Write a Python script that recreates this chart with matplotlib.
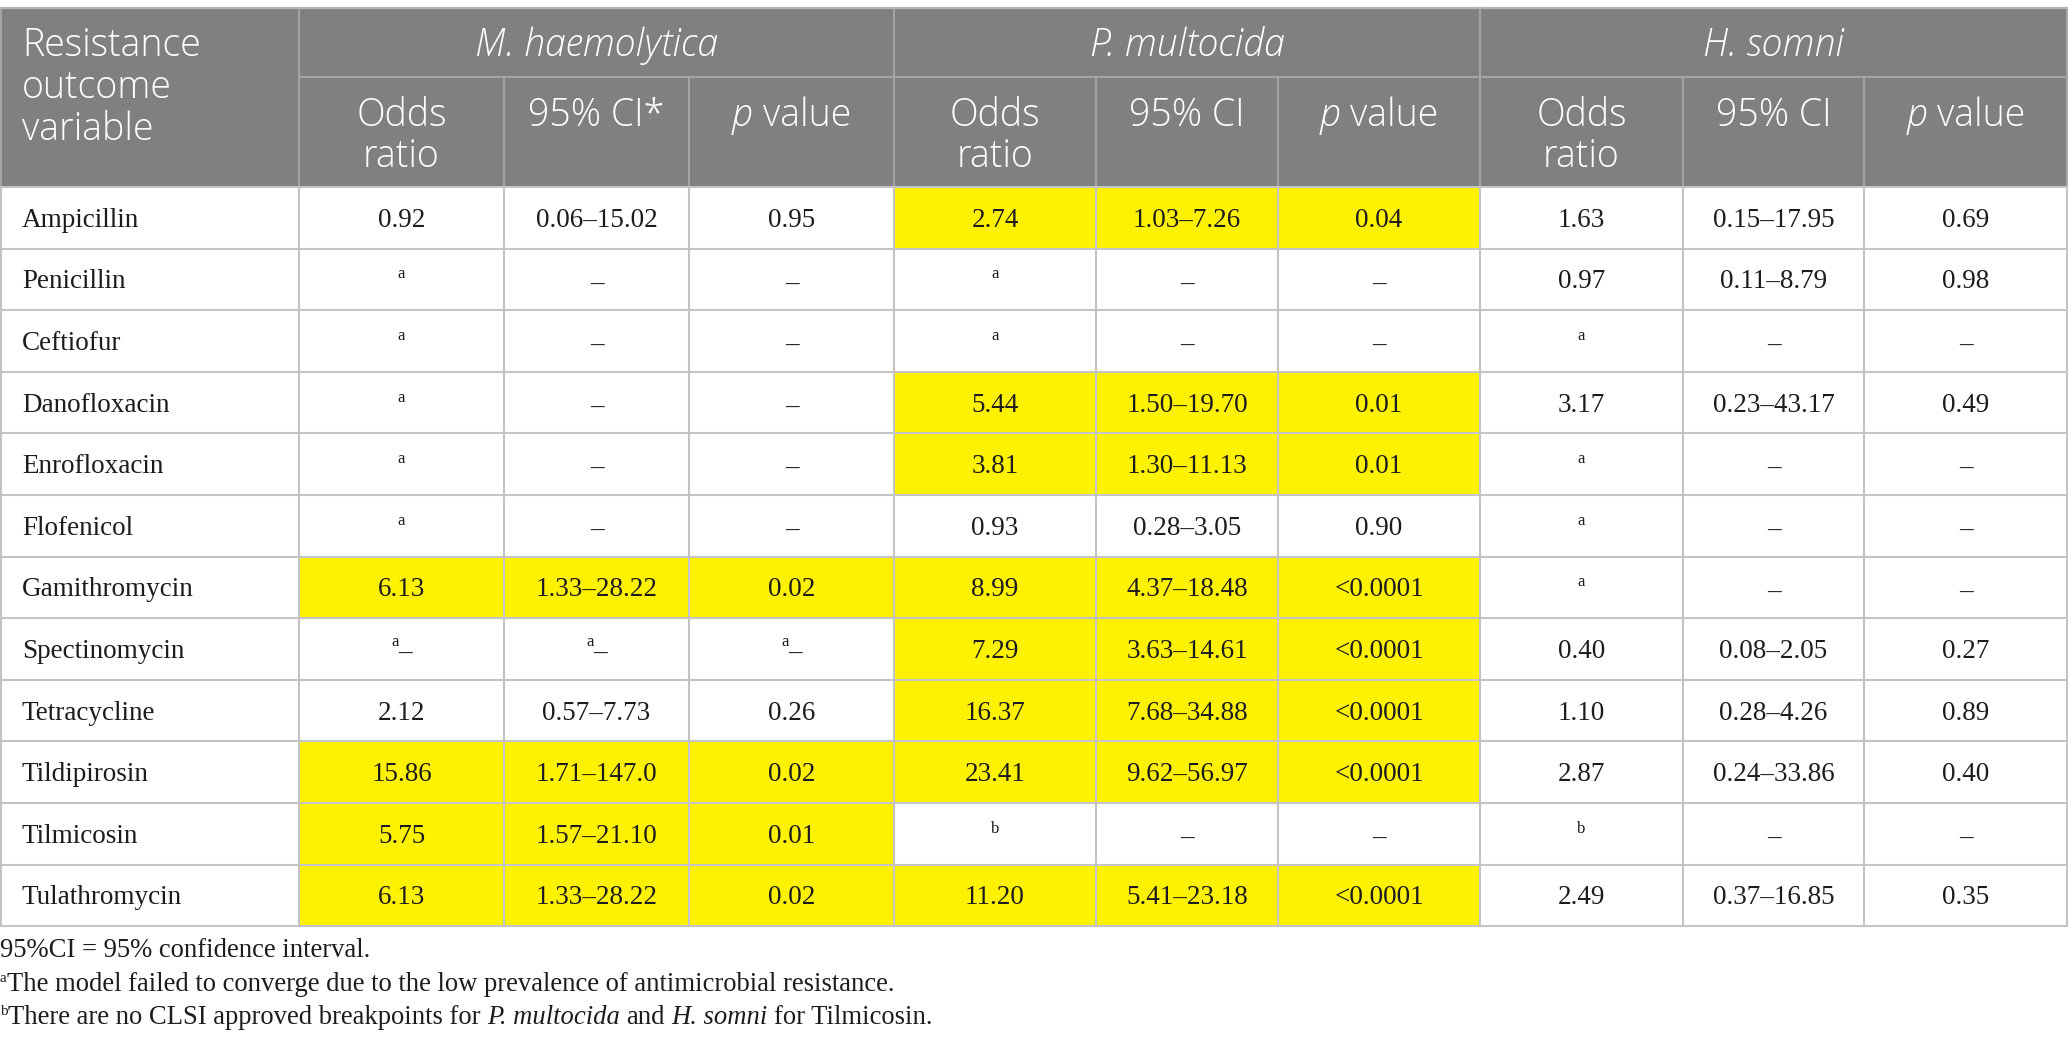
import matplotlib
matplotlib.use("Agg")
import matplotlib.pyplot as plt
from matplotlib.patches import Rectangle

# ---------------- data ----------------
drugs = ["Ampicillin", "Penicillin", "Ceftiofur", "Danofloxacin", "Enrofloxacin",
         "Flofenicol", "Gamithromycin", "Spectinomycin", "Tetracycline",
         "Tildipirosin", "Tilmicosin", "Tulathromycin"]

groups = ["M. haemolytica", "P. multocida", "H. somni"]
first_header = "Resistance\noutcome\nvariable"
sub_headers = [["Odds\nratio", "95% CI*", "p value"],
               ["Odds\nratio", "95% CI", "p value"],
               ["Odds\nratio", "95% CI", "p value"]]

# "^a" = superscript a ; "^a–" = superscript a followed by dash
mh_or = ["0.92", "^a", "^a", "^a", "^a", "^a", "6.13", "^a–", "2.12", "15.86", "5.75", "6.13"]
mh_ci = ["0.06–15.02", "–", "–", "–", "–", "–", "1.33–28.22", "^a–", "0.57–7.73",
         "1.71–147.0", "1.57–21.10", "1.33–28.22"]
mh_p = ["0.95", "–", "–", "–", "–", "–", "0.02", "^a–", "0.26", "0.02", "0.01", "0.02"]
mh_sig = [0, 0, 0, 0, 0, 0, 1, 0, 0, 1, 1, 1]

pm_or = ["2.74", "^a", "^a", "5.44", "3.81", "0.93", "8.99", "7.29", "16.37", "23.41", "^b", "11.20"]
pm_ci = ["1.03–7.26", "–", "–", "1.50–19.70", "1.30–11.13", "0.28–3.05", "4.37–18.48",
         "3.63–14.61", "7.68–34.88", "9.62–56.97", "–", "5.41–23.18"]
pm_p = ["0.04", "–", "–", "0.01", "0.01", "0.90", "<0.0001", "<0.0001", "<0.0001",
        "<0.0001", "–", "<0.0001"]
pm_sig = [1, 0, 0, 1, 1, 0, 1, 1, 1, 1, 0, 1]

hs_or = ["1.63", "0.97", "^a", "3.17", "^a", "^a", "^a", "0.40", "1.10", "2.87", "^b", "2.49"]
hs_ci = ["0.15–17.95", "0.11–8.79", "–", "0.23–43.17", "–", "–", "–", "0.08–2.05",
         "0.28–4.26", "0.24–33.86", "–", "0.37–16.85"]
hs_p = ["0.69", "0.98", "–", "0.49", "–", "–", "–", "0.27", "0.89", "0.40", "–", "0.35"]
hs_sig = [0] * 12

footnote1 = "95%CI = 95% confidence interval."
footnote2 = [("a", "sup"), ("The model failed to converge due to the low prevalence of antimicrobial resistance.", "rm")]
footnote3 = [("b", "sup"), ("There are no CLSI approved breakpoints for ", "rm"), ("P. multocida", "it"),
             (" and ", "rm"), ("H. somni", "it"), (" for Tilmicosin.", "rm")]

# ---------------- layout ----------------
W, H = 2068, 1055
col_edges = [0, 299, 504, 689, 894, 1096, 1278, 1480, 1683, 1864, 2068]
y_top, y_h1, y_h2 = 8, 77, 187
row_h = 61.6
n_rows = len(drugs)

HEADER_BG = "#7f807f"
HEADER_LINE = "#a3a4a3"
GRID = "#c4c4c4"
YELLOW = "#fff200"
TXT = "#1c1c1c"
SANS = "Open Sans"
SERIF = "Liberation Serif"
FS_HEAD = 27
FS_BODY = 19.5
FS_SUP = 12
FS_FOOT = 19.2

fig = plt.figure(figsize=(W / 100, H / 100), dpi=100)
ax = fig.add_axes([0, 0, 1, 1])
ax.set_xlim(0, W)
ax.set_ylim(H, 0)
ax.axis("off")
renderer = fig.canvas.get_renderer()


def width_of(t):
    return t.get_window_extent(renderer).width


def space_width(**kw):
    t1 = ax.text(0, 0, "a a", **kw)
    t2 = ax.text(0, 0, "aa", **kw)
    w = width_of(t1) - width_of(t2)
    t1.remove(); t2.remove()
    return w


def draw_runs(x, y, runs, ha="center"):
    """runs: list of (string, kwargs, dy). y is baseline."""
    objs = []
    widths = []
    for s, kw, dy in runs:
        lead = len(s) - len(s.lstrip(" "))
        trail = len(s) - len(s.rstrip(" "))
        core = s.strip(" ")
        sw = space_width(**kw) if (lead or trail) else 0
        t = ax.text(0, y + dy, core, ha="left", va="baseline", **kw)
        objs.append((t, lead * sw))
        widths.append(width_of(t) + (lead + trail) * sw)
    total = sum(widths)
    cur = x - total / 2 if ha == "center" else x
    for (t, lw_), w in zip(objs, widths):
        t.set_x(cur + lw_)
        cur += w


body_kw = dict(fontsize=FS_BODY, family=SERIF, color=TXT)
sup_kw = dict(fontsize=FS_SUP, family=SERIF, color=TXT)


def draw_cell_text(x, yc, s, ha="center"):
    base = yc + 9
    if s.startswith("^"):
        mark = s[1]
        rest = s[2:]
        if rest:
            runs = [(mark, sup_kw, -12), (rest, body_kw, 2)]
        else:
            runs = [(mark, sup_kw, -10)]
        draw_runs(x, base, runs, ha=ha)
    elif s == "–":
        ax.text(x, base + 2, s, ha=ha, va="baseline", **body_kw)
    else:
        ax.text(x, base, s, ha=ha, va="baseline", **body_kw)


# ---------------- header ----------------
ax.add_patch(Rectangle((0, y_top), W, y_h2 - y_top, facecolor=HEADER_BG, edgecolor="none", zorder=0))
ax.plot([0, W], [y_top, y_top], color="#b5b5b5", lw=1.6, zorder=3, solid_capstyle="butt")
head_kw = dict(fontsize=FS_HEAD, family=SANS, color="white", fontweight="light")

for i, line in enumerate(first_header.split("\n")):
    ax.text(22, 56 + i * 42, line, ha="left", va="baseline", **head_kw)

for g, name in enumerate(groups):
    x0, x1 = col_edges[1 + 3 * g], col_edges[4 + 3 * g]
    ax.text((x0 + x1) / 2, 56, name, ha="center", va="baseline", style="italic", **head_kw)
    for j, lab in enumerate(sub_headers[g]):
        cx = (col_edges[1 + 3 * g + j] + col_edges[2 + 3 * g + j]) / 2
        if lab.startswith("p "):
            draw_runs(cx, 126, [("p", dict(style="italic", **head_kw), 0),
                                (lab[1:], head_kw, 0)], ha="center")
        else:
            for k, line in enumerate(lab.split("\n")):
                ax.text(cx, 126 + k * 41, line, ha="center", va="baseline", **head_kw)

# header lines
lwp = 1.5
ax.plot([col_edges[1], W], [y_h1, y_h1], color=HEADER_LINE, lw=lwp, zorder=2)
for g in range(3):
    x = col_edges[1 + 3 * g]
    ax.plot([x, x], [y_top, y_h2], color=HEADER_LINE, lw=lwp, zorder=2)
    for j in (1, 2):
        x = col_edges[1 + 3 * g + j]
        ax.plot([x, x], [y_h1, y_h2], color=HEADER_LINE, lw=lwp, zorder=2)
ax.plot([W - 1, W - 1], [y_top, y_h2], color=HEADER_LINE, lw=lwp, zorder=2)
ax.plot([0.8, 0.8], [y_top, y_h2], color=HEADER_LINE, lw=lwp, zorder=2)

# ---------------- body ----------------
cols = [(mh_or, mh_ci, mh_p, mh_sig), (pm_or, pm_ci, pm_p, pm_sig), (hs_or, hs_ci, hs_p, hs_sig)]
y_bottom = y_h2 + n_rows * row_h
for r in range(n_rows):
    ytop = y_h2 + r * row_h
    yc = ytop + row_h / 2
    draw_cell_text(22, yc, drugs[r], ha="left")
    for g, (a, b, c, sig) in enumerate(cols):
        for j, vals in enumerate((a, b, c)):
            x0, x1 = col_edges[1 + 3 * g + j], col_edges[2 + 3 * g + j]
            if sig[r]:
                ax.add_patch(Rectangle((x0, ytop), x1 - x0, row_h, facecolor=YELLOW,
                                       edgecolor="none", zorder=0))
            draw_cell_text((x0 + x1) / 2, yc, vals[r])

for r in range(n_rows + 1):
    y = y_h2 + r * row_h
    ax.plot([0, W], [y, y], color=GRID, lw=1.5, zorder=2)
for x in col_edges[1:-1]:
    ax.plot([x, x], [y_h2, y_bottom], color=GRID, lw=1.5, zorder=2)
ax.plot([0.8, 0.8], [y_h2, y_bottom], color=GRID, lw=1.5, zorder=2)
ax.plot([W - 1, W - 1], [y_h2, y_bottom], color=GRID, lw=1.5, zorder=2)

# ---------------- footnotes ----------------
foot_kw = dict(fontsize=FS_FOOT, family=SERIF, color=TXT)
foot_sup = dict(fontsize=11, family=SERIF, color=TXT)
fy = [957, 991, 1024]
ax.text(0, fy[0], footnote1, ha="left", va="baseline", **foot_kw)
for yy, fn in zip(fy[1:], (footnote2, footnote3)):
    runs = []
    for s, st in fn:
        if st == "sup":
            runs.append((s, foot_sup, -9))
        elif st == "it":
            runs.append((s, dict(style="italic", **foot_kw), 0))
        else:
            runs.append((s, foot_kw, 0))
    draw_runs(0, yy, runs, ha="left")

fig.savefig("out.png", dpi=100)
